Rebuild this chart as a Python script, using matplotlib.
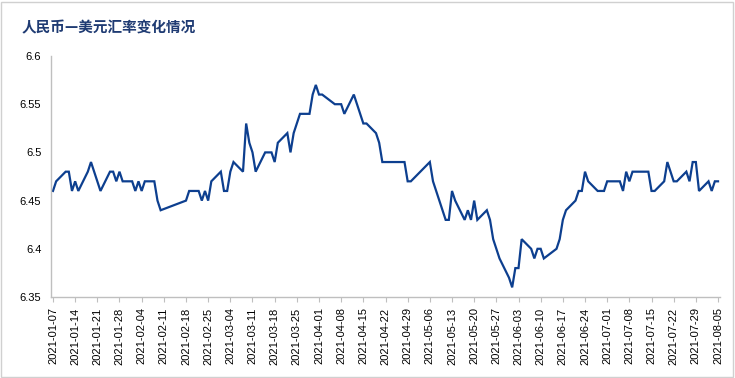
import pandas as pd
import matplotlib
matplotlib.use("Agg")
from matplotlib import pyplot as plt
import matplotlib.dates as mdates
from matplotlib.ticker import FuncFormatter
from matplotlib.patches import Rectangle

TITLE = "人民币—美元汇率变化情况"

# trading days per month and the rate on each day
jan_days = [7, 8, 11, 12, 13, 14, 15, 18, 19, 20, 21, 22, 25, 26, 27, 28, 29]
jan_rates = [6.46, 6.47, 6.48, 6.48, 6.46, 6.47, 6.46, 6.48, 6.49, 6.48, 6.47, 6.46, 6.48, 6.48, 6.47, 6.48, 6.47]

feb_days = [1, 2, 3, 4, 5, 8, 9, 10, 18, 19, 22, 23, 24, 25, 26]
feb_rates = [6.47, 6.46, 6.47, 6.46, 6.47, 6.47, 6.45, 6.44, 6.45, 6.46, 6.46, 6.45, 6.46, 6.45, 6.47]

mar_days = [1, 2, 3, 4, 5, 8, 9, 10, 11, 12, 15, 16, 17, 18, 19, 22, 23, 24, 25, 26, 29, 30, 31]
mar_rates = [6.48, 6.46, 6.46, 6.48, 6.49, 6.48, 6.53, 6.51, 6.50, 6.48, 6.50, 6.50, 6.50, 6.49, 6.51,
             6.52, 6.50, 6.52, 6.53, 6.54, 6.54, 6.56, 6.57]

apr_days = [1, 2, 6, 7, 8, 9, 12, 13, 14, 15, 16, 19, 20, 21, 22, 23, 26, 27, 28, 29, 30]
apr_rates = [6.56, 6.56, 6.55, 6.55, 6.55, 6.54, 6.56, 6.55, 6.54, 6.53, 6.53, 6.52, 6.51, 6.49, 6.49,
             6.49, 6.49, 6.49, 6.49, 6.47, 6.47]

may_days = [6, 7, 10, 11, 12, 13, 14, 17, 18, 19, 20, 21, 24, 25, 26, 27, 28, 31]
may_rates = [6.49, 6.47, 6.44, 6.43, 6.43, 6.46, 6.45, 6.43, 6.44, 6.43, 6.45, 6.43, 6.44, 6.43, 6.41,
             6.40, 6.39, 6.37]

jun_days = [1, 2, 3, 4, 7, 8, 9, 10, 11, 15, 16, 17, 18, 21, 22, 23, 24, 25, 28, 29, 30]
jun_rates = [6.36, 6.38, 6.38, 6.41, 6.40, 6.39, 6.40, 6.40, 6.39, 6.40, 6.41, 6.43, 6.44, 6.45, 6.46,
             6.46, 6.48, 6.47, 6.46, 6.46, 6.46]

jul_days = [1, 2, 5, 6, 7, 8, 9, 12, 13, 14, 15, 16, 19, 20, 21, 22, 23, 26, 27, 28, 29, 30]
jul_rates = [6.47, 6.47, 6.47, 6.46, 6.48, 6.47, 6.48, 6.48, 6.48, 6.48, 6.46, 6.46, 6.47, 6.49, 6.48,
             6.47, 6.47, 6.48, 6.47, 6.49, 6.49, 6.46]

aug_days = [2, 3, 4, 5]
aug_rates = [6.47, 6.46, 6.47, 6.47]

months = [(1, jan_days, jan_rates), (2, feb_days, feb_rates), (3, mar_days, mar_rates),
          (4, apr_days, apr_rates), (5, may_days, may_rates), (6, jun_days, jun_rates),
          (7, jul_days, jul_rates), (8, aug_days, aug_rates)]

dates = []
rates = []
for m, days, vals in months:
    for d, v in zip(days, vals):
        dates.append(pd.Timestamp(2021, m, d))
        rates.append(v)

tick_dates = pd.date_range("2021-01-07", "2021-08-05", freq="7D")

LINE_COLOR = "#0d3f8f"
AXIS_COLOR = "#bfbfbf"

fig = plt.figure(figsize=(7.35, 3.78), dpi=100)
ax = fig.add_axes([51 / 735, 81 / 378, 669 / 735, 241 / 378])

ax.plot(dates, rates, color=LINE_COLOR, lw=1.6, solid_joinstyle="miter")

ax.set_ylim(6.35, 6.6)
ax.set_yticks([6.35, 6.4, 6.45, 6.5, 6.55, 6.6])
ax.yaxis.set_major_formatter(FuncFormatter(lambda v, p: "%g" % round(v, 2)))
ax.set_xlim(tick_dates[0] - pd.Timedelta(hours=15), tick_dates[-1] + pd.Timedelta(hours=15))
ax.set_xticks(tick_dates)
ax.xaxis.set_major_formatter(mdates.DateFormatter("%Y-%m-%d"))

for s in ["top", "right"]:
    ax.spines[s].set_visible(False)
for s in ["left", "bottom"]:
    ax.spines[s].set_color(AXIS_COLOR)
    ax.spines[s].set_linewidth(1.0)

ax.tick_params(axis="y", length=0, pad=7, labelsize=8)
ax.tick_params(axis="x", length=3.5, color=AXIS_COLOR, pad=4, labelsize=8, labelrotation=90)
for lab in ax.get_xticklabels() + ax.get_yticklabels():
    lab.set_family(["Liberation Sans", "DejaVu Sans"])

fig.text(22 / 735, 1 - 27 / 378, TITLE, fontsize=10.5, fontweight="bold", color="#1f3b73",
         family=["Noto Sans CJK SC", "DejaVu Sans"], va="center", ha="left")

fig.patches.append(Rectangle((1 / 735, 1 / 378), 732 / 735, 375 / 378, transform=fig.transFigure,
                             fill=False, edgecolor="#d0d0d0", lw=1.0))

fig.savefig("out.png", dpi=100)
